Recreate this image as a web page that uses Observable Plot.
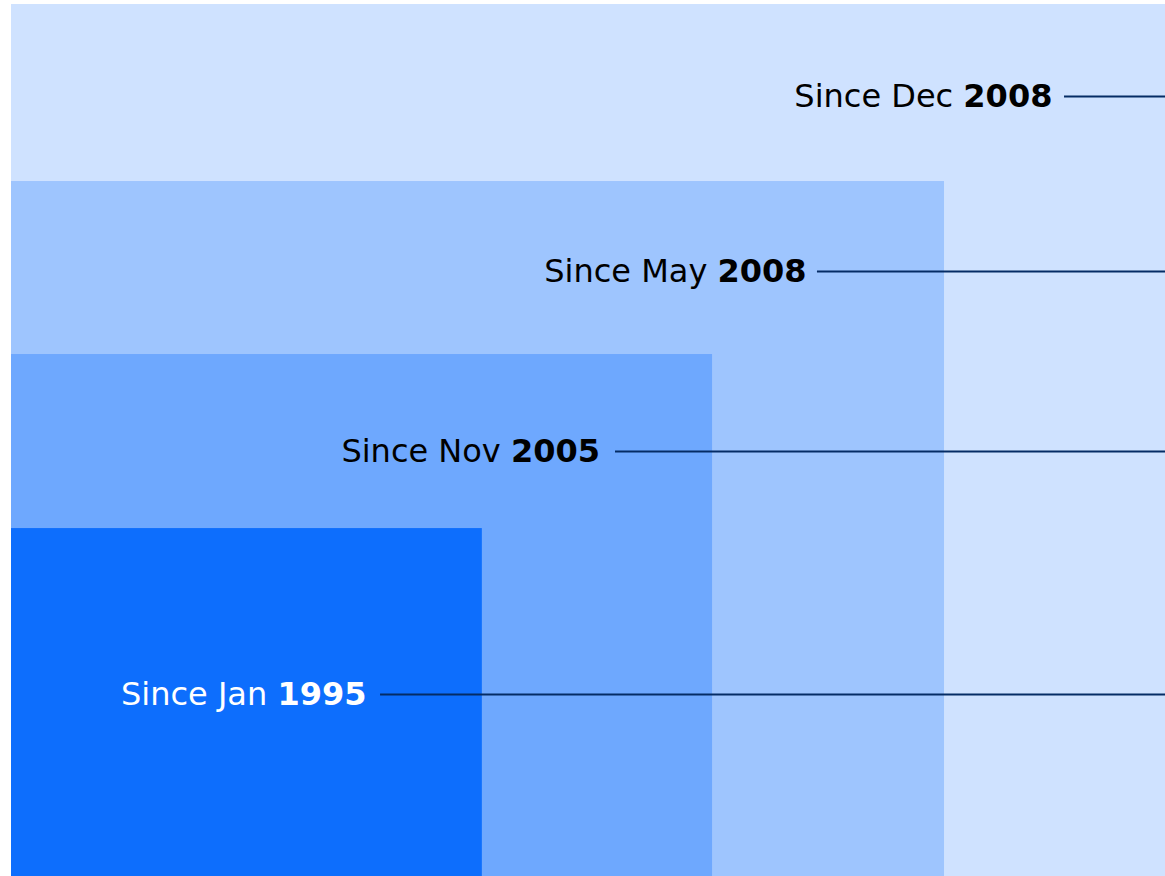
<!DOCTYPE html>
<html>
<head>
<meta charset="utf-8">
<script src="https://cdn.jsdelivr.net/npm/d3@7"></script>
<script src="https://cdn.jsdelivr.net/npm/@observablehq/plot@0.6"></script>
<style>
  html, body { margin: 0; padding: 0; background: #ffffff; }
  #chart svg { display: block; }
</style>
</head>
<body>
<div id="chart"></div>
<script>
// Categories (periods), outermost first
const periods = ["Dec 2008", "May 2008", "Nov 2005", "Jan 1995"];
const prefixes = ["Since Dec", "Since May", "Since Nov", "Since Jan"];
const years = ["2008", "2008", "2005", "1995"];
// Relative extents of each nested block (share of full width / height)
const widthShare = [1.0, 0.8085, 0.6075, 0.408];
const heightShare = [1.0, 0.797, 0.5986, 0.399];
// Label anchor positions in the same relative units
const labelX = [0.902, 0.689, 0.510, 0.3076];
const labelY = [0.8945, 0.6938, 0.4874, 0.2087];
const leaderStart = [0.9125, 0.6984, 0.5234, 0.3198];

const blockColors = ["#cfe2ff", "#9ec5fe", "#6ea8fe", "#0d6efd"];
const textColors = ["#000000", "#000000", "#000000", "#ffffff"];

const blocks = periods.map((p, i) => ({
  period: p, w: widthShare[i], h: heightShare[i],
  lx: labelX[i], ly: labelY[i], ls: leaderStart[i],
  label: prefixes[i] + " " + years[i], tc: textColors[i]
}));

const chart = Plot.plot({
  width: 1165,
  height: 876,
  marginLeft: 11,
  marginTop: 4,
  marginRight: 0,
  marginBottom: 0,
  x: { domain: [0, 1], axis: null },
  y: { domain: [0, 1], axis: null },
  color: { domain: periods, range: blockColors },
  style: { fontFamily: "'DejaVu Sans', Verdana, sans-serif", background: "transparent" },
  marks: [
    Plot.rect(blocks, { x1: 0, x2: "w", y1: 0, y2: "h", fill: "period", inset: 0 }),
    Plot.ruleY(blocks, { y: "ly", x1: "ls", x2: 1, stroke: "#052c65", strokeWidth: 2 }),
    Plot.text(blocks, {
      x: "lx", y: "ly", text: "label", textAnchor: "end", lineAnchor: "middle",
      fontSize: 32, fill: "tc", className: "since-label"
    })
  ]
});

// split each label into a regular prefix and a bold year
d3.select(chart).selectAll(".since-label text").each(function () {
  const t = this.textContent;
  const k = t.lastIndexOf(" ");
  const sel = d3.select(this);
  sel.text(null);
  sel.append("tspan").text(t.slice(0, k + 1));
  sel.append("tspan").attr("font-weight", "bold").text(t.slice(k + 1));
});

document.getElementById("chart").appendChild(chart);
</script>
</body>
</html>
